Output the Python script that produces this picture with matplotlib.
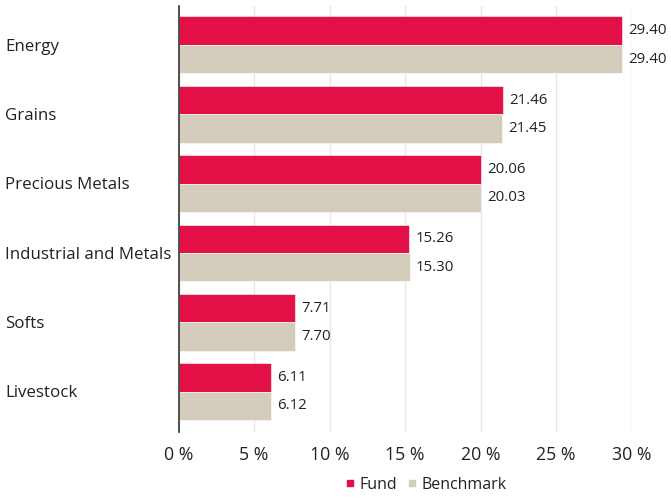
import matplotlib
matplotlib.use("Agg")
import matplotlib.pyplot as plt
import numpy as np
from matplotlib.transforms import blended_transform_factory
from matplotlib.lines import Line2D

categories = ["Energy", "Grains", "Precious Metals", "Industrial and Metals", "Softs", "Livestock"]
fund = [29.40, 21.46, 20.06, 15.26, 7.71, 6.11]
benchmark = [29.40, 21.45, 20.03, 15.30, 7.70, 6.12]
xticks = [0, 5, 10, 15, 20, 25, 30]
xtick_labels = ["0 %", "5 %", "10 %", "15 %", "20 %", "25 %", "30 %"]
series_names = ["Fund", "Benchmark"]

FUND_C = "#E31048"
BENCH_C = "#D5CDBB"
TEXT_C = "#222222"
plt.rcParams["font.family"] = ["Open Sans", "DejaVu Sans"]

fig = plt.figure(figsize=(6.71, 5.01), dpi=100)
ax = fig.add_axes([178.5 / 671, 1 - 432 / 501, (631.5 - 178.5) / 671, (432 - 6) / 501])

y = np.arange(len(categories))
h = 0.41
ax.barh(y - h / 2, fund, height=h, color=FUND_C, edgecolor="white", linewidth=0.4, zorder=3)
ax.barh(y + h / 2, benchmark, height=h, color=BENCH_C, edgecolor="white", linewidth=0.4, zorder=3)

for yi, v in zip(y, fund):
    ax.annotate(f"{v:.2f}", (v, yi - h / 2), xytext=(4.5, 0), textcoords="offset points",
                va="center", ha="left", fontsize=10.8, color=TEXT_C)
for yi, v in zip(y, benchmark):
    ax.annotate(f"{v:.2f}", (v, yi + h / 2), xytext=(4.5, 0), textcoords="offset points",
                va="center", ha="left", fontsize=10.8, color=TEXT_C)

ax.set_xlim(0, 30)
ax.set_ylim(len(categories) - 1 + 0.58, -0.56)
ax.set_xticks(xticks)
ax.set_xticklabels(xtick_labels, fontsize=12.8, color=TEXT_C)
ax.tick_params(axis="x", length=0, pad=10)
ax.set_yticks([])
ax.grid(axis="x", color="#e6e6e6", linewidth=1, zorder=0)
for s in ["top", "right", "bottom"]:
    ax.spines[s].set_visible(False)
ax.spines["left"].set_color("#333333")
ax.spines["left"].set_linewidth(1.2)
ax.spines["left"].set_zorder(4)

tr = blended_transform_factory(fig.transFigure, ax.transData)
for yi, c in zip(y, categories):
    ax.annotate(c, (5 / 671, yi), xycoords=tr, xytext=(0, -1.2), textcoords="offset points",
                ha="left", va="center", fontsize=12.2, color=TEXT_C)

handles = [Line2D([], [], marker="s", linestyle="none", markersize=5, color=FUND_C),
           Line2D([], [], marker="s", linestyle="none", markersize=5, color=BENCH_C)]
fig.legend(handles, series_names, loc="center", bbox_to_anchor=(426 / 671, 1 - 485 / 501),
           ncol=2, frameon=False, fontsize=11.5, handlelength=0.6, handletextpad=0.3,
           columnspacing=0.6, labelcolor=TEXT_C)

fig.savefig("out.png", dpi=100)
